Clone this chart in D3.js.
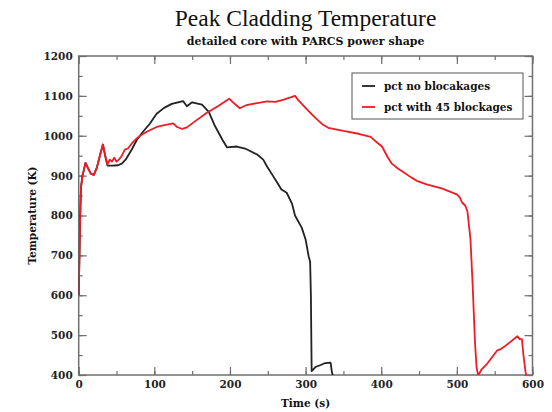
<!DOCTYPE html>
<html><head><meta charset="utf-8">
<script src="https://cdn.jsdelivr.net/npm/d3@7"></script>
<style>body{margin:0;background:#fff}</style>
</head><body>
<svg id="c" width="552" height="412"></svg>
<script>
const titleText = "Peak Cladding Temperature";
const subtitleText = "detailed core with PARCS power shape";
const xLabel = "Time (s)";
const yLabel = "Temperature (K)";
const seriesNames = ["pct no blocakages", "pct with 45 blockages"];
const xTicks = [0,100,200,300,400,500,600];
const yTicks = [400,500,600,700,800,900,1000,1100,1200];

const noBlockage = [[0,600],[1,700],[2,800],[3,870],[5,900],[7,915],[9,932],[12,920],[16,905],[20,902],[24,920],[28,950],[32,978],[35,950],[38,925],[45,925],[52,926],[57,930],[62,940],[70,965],[77,990],[85,1010],[94,1030],[103,1055],[113,1070],[123,1080],[138,1087],[143,1074],[150,1084],[163,1078],[172,1060],[180,1025],[190,990],[196,971],[209,973],[220,968],[236,953],[244,940],[249,923],[255,905],[262,884],[268,865],[275,857],[282,830],[286,800],[295,769],[300,740],[304,698],[306,684],[307,600],[308,410],[313,420],[320,425],[326,430],[333,431],[335,405],[336,400]];

const withBlockage = [[0,600],[1,700],[2,800],[3,870],[5,900],[7,915],[9,932],[12,920],[16,905],[20,902],[24,920],[28,950],[32,978],[35,950],[38,928],[41,940],[44,935],[47,945],[50,935],[53,940],[57,950],[61,965],[65,968],[70,980],[76,992],[81,1000],[90,1010],[103,1022],[115,1027],[125,1031],[130,1022],[137,1017],[143,1021],[155,1038],[169,1057],[185,1075],[199,1093],[205,1082],[213,1069],[222,1077],[236,1082],[249,1086],[260,1085],[270,1090],[280,1096],[286,1100],[290,1090],[304,1062],[313,1045],[322,1029],[330,1020],[350,1012],[370,1005],[386,997],[392,987],[401,973],[408,948],[414,930],[422,918],[430,908],[440,895],[447,887],[460,878],[480,868],[500,853],[504,845],[507,832],[511,825],[514,810],[518,740],[521,620],[524,480],[526,420],[528,400],[530,405],[533,415],[540,428],[553,461],[558,465],[564,473],[572,485],[580,497],[583,490],[586,490],[588,450],[591,405],[592,400]];

const svg = d3.select("#c");
const L = 78.7, R = 532.5, T = 56, B = 375;
const x = d3.scaleLinear().domain([0,600]).range([L,R]);
const y = d3.scaleLinear().domain([400,1200]).range([B,T]);
const font = "'DejaVu Serif', serif";
const frameCol = "#6f6f6f";

svg.append("defs").append("clipPath").attr("id","clip")
  .append("rect").attr("x",L).attr("y",T).attr("width",R-L).attr("height",B-T);

// titles
svg.append("text").attr("x",(L+R)/2).attr("y",26).attr("text-anchor","middle")
  .style("font-family","'Liberation Serif', serif").style("font-size","23.5px").attr("fill","#111").text(titleText);
svg.append("text").attr("x",(L+R)/2).attr("y",45).attr("text-anchor","middle")
  .style("font-family",font).style("font-weight","bold").style("font-size","11px").attr("fill","#111").text(subtitleText);

// axes with inward ticks
function styleAxis(g){
  g.select(".domain").remove();
  g.selectAll("line").attr("stroke",frameCol).attr("stroke-width",1.2);
  g.selectAll("text").style("font-family",font).style("font-weight","bold").style("font-size","10.5px").attr("fill","#222");
}
const xMinor = d3.range(0,601,50);
const yMinor = d3.range(400,1201,50);
svg.append("g").attr("transform",`translate(0,${B})`).call(d3.axisBottom(x).tickValues(xMinor).tickSize(-4).tickFormat("")).call(styleAxis);
svg.append("g").attr("transform",`translate(0,${B})`).call(d3.axisBottom(x).tickValues(xTicks).tickSize(-8).tickPadding(6).tickFormat(d3.format("d"))).call(styleAxis);
svg.append("g").attr("transform",`translate(0,${T})`).call(d3.axisTop(x).tickValues(xMinor).tickSize(-4).tickFormat("")).call(styleAxis);
svg.append("g").attr("transform",`translate(0,${T})`).call(d3.axisTop(x).tickValues(xTicks).tickSize(-8).tickFormat("")).call(styleAxis);
svg.append("g").attr("transform",`translate(${L},0)`).call(d3.axisLeft(y).tickValues(yMinor).tickSize(-4).tickFormat("")).call(styleAxis);
svg.append("g").attr("transform",`translate(${L},0)`).call(d3.axisLeft(y).tickValues(yTicks).tickSize(-8).tickPadding(6).tickFormat(d3.format("d"))).call(styleAxis);
svg.append("g").attr("transform",`translate(${R},0)`).call(d3.axisRight(y).tickValues(yMinor).tickSize(-4).tickFormat("")).call(styleAxis);
svg.append("g").attr("transform",`translate(${R},0)`).call(d3.axisRight(y).tickValues(yTicks).tickSize(-8).tickFormat("")).call(styleAxis);

// frame
svg.append("rect").attr("x",L).attr("y",T).attr("width",R-L).attr("height",B-T)
  .attr("fill","none").attr("stroke",frameCol).attr("stroke-width",1.5);

// lines
const line = d3.line().x(d=>x(d[0])).y(d=>y(d[1]));
const gl = svg.append("g").attr("clip-path","url(#clip)");
gl.append("path").datum(noBlockage).attr("d",line).attr("fill","none").attr("stroke","#222").attr("stroke-width",1.8).attr("stroke-linejoin","round");
gl.append("path").datum(withBlockage).attr("d",line).attr("fill","none").attr("stroke","#ee1c24").attr("stroke-width",1.8).attr("stroke-linejoin","round");

// axis labels
svg.append("text").attr("x",(L+R)/2).attr("y",407).attr("text-anchor","middle")
  .style("font-family",font).style("font-weight","bold").style("font-size","10.5px").attr("fill","#111").text(xLabel);
svg.append("text").attr("transform",`translate(36,${(T+B)/2}) rotate(-90)`).attr("text-anchor","middle")
  .style("font-family",font).style("font-weight","bold").style("font-size","10.5px").attr("fill","#111").text(yLabel);

// legend
const lg = svg.append("g");
lg.append("rect").attr("x",352).attr("y",73).attr("width",171).attr("height",46)
  .attr("fill","#fff").attr("stroke","#555").attr("stroke-width",1);
const colors = ["#222","#ee1c24"];
seriesNames.forEach((n,i)=>{
  const yy = 86 + i*21;
  lg.append("line").attr("x1",362).attr("x2",375).attr("y1",yy).attr("y2",yy).attr("stroke",colors[i]).attr("stroke-width",1.8);
  lg.append("text").attr("x",384).attr("y",yy+4).style("font-family",font).style("font-weight","bold").style("font-size","10.5px").attr("fill","#111").text(n);
});
</script>
</body></html>
